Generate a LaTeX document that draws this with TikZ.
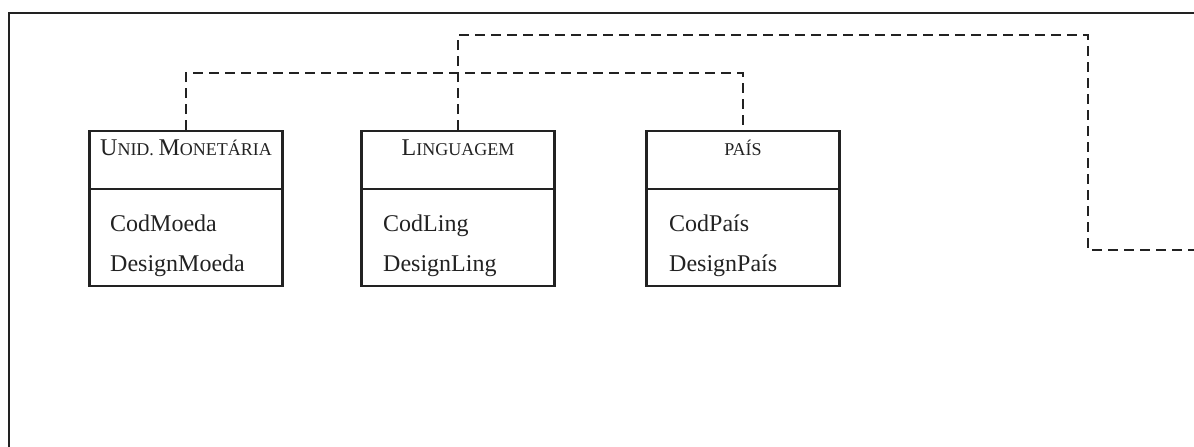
\documentclass[tikz,border=0pt]{standalone}
\usepackage{fontspec}
\setmainfont{Liberation Serif}
\newcommand{\bc}[1]{{\fontsize{24}{24}\selectfont #1}}
\definecolor{ink}{HTML}{222222}
\begin{document}
\begin{tikzpicture}[x=1pt,y=-1pt,
  frame/.style={draw=ink,line width=2.6pt},
  classbox/.style={draw=ink,line width=2.4pt,minimum width=193pt,minimum height=155pt,anchor=north,inner sep=0pt},
  divider/.style={draw=ink,line width=2.4pt},
  ctitle/.style={anchor=base,inner sep=0pt,text=ink,font=\fontsize{18}{18}\selectfont},
  attr/.style={anchor=base west,inner sep=0pt,text=ink,font=\fontsize{24}{24}\selectfont},
  link/.style={draw=ink,line width=2.6pt,dash pattern=on 10pt off 6pt}]
\useasboundingbox (0,0) rectangle (1194,447);
% frame
\coordinate (fbl) at (9,447);
\coordinate (ftl) at (9,13);
\coordinate (ftr) at (1194,13);
\draw[frame] (fbl) -- (ftl) -- (ftr);
% classes
\node[classbox] (moeda) at (186,130) {};
\node[classbox] (ling) at (458,130) {};
\node[classbox] (pais) at (743,130) {};
\draw[divider] (moeda.west |- 0,189) -- (moeda.east |- 0,189);
\draw[divider] (ling.west |- 0,189) -- (ling.east |- 0,189);
\draw[divider] (pais.west |- 0,189) -- (pais.east |- 0,189);
\node[ctitle] (moedaT) at (186,155) {\bc{U}NID. \bc{M}ONETÁRIA};
\node[ctitle] (lingT) at (458,155) {\bc{L}INGUAGEM};
\node[ctitle] (paisT) at (743,155) {PAÍS};
\node[attr] (m1) at (110,231) {CodMoeda};
\node[attr] (m2) at (110,271) {DesignMoeda};
\node[attr] (l1) at (383,231) {CodLing};
\node[attr] (l2) at (383,271) {DesignLing};
\node[attr] (p1) at (669,231) {CodPaís};
\node[attr] (p2) at (669,271) {DesignPaís};
% connectors
\coordinate (c1) at (186,73);
\coordinate (c2) at (743,73);
\draw[link] (moeda.north) -- (c1) -- (c2) -- (pais.north);
\coordinate (d1) at (458,35);
\coordinate (d2) at (1088,35);
\coordinate (d3) at (1088,250);
\coordinate (d4) at (1194,250);
\draw[link] (ling.north) -- (d1) -- (d2) -- (d3) -- (d4);
\end{tikzpicture}
\end{document}
